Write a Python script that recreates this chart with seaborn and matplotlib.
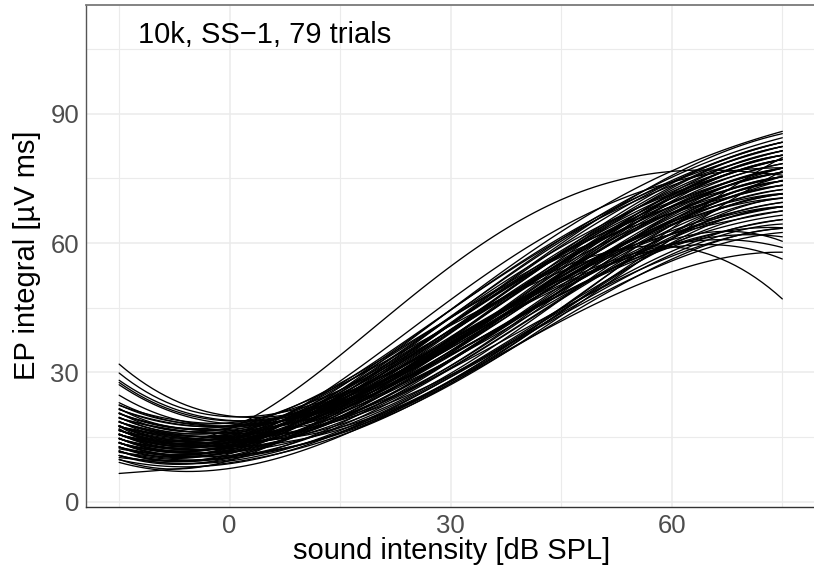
import matplotlib
matplotlib.use("Agg")
import matplotlib.pyplot as plt
from matplotlib.ticker import FixedLocator
import seaborn as sns
import pandas as pd

# ---------------- data ----------------
sound_intensity = [-15, -5, 5, 15, 25, 35, 45, 55, 65, 75]

early_rise_trials = [
    [17.0, 15.5, 21.5, 32.5, 48.0, 61.5, 70.5, 75.0, 76.5, 76.0],
    [16.0, 15.0, 18.0, 25.0, 40.5, 55.0, 64.0, 71.0, 75.0, 78.0],
]

late_plateau_trials = [
    [14.0, 13.0, 16.0, 22.0, 33.0, 46.0, 56.0, 59.5, 55.0, 48.0],
    [13.0, 13.0, 15.5, 21.0, 30.0, 42.0, 52.0, 57.0, 58.0, 57.0],
    [15.0, 14.0, 16.0, 22.0, 31.0, 43.0, 52.0, 57.5, 59.5, 59.5],
    [11.0, 11.5, 13.5, 18.5, 27.0, 39.0, 50.0, 58.0, 61.0, 61.0],
    [17.0, 15.5, 17.0, 22.0, 30.5, 42.0, 51.0, 57.0, 60.0, 62.0],
]

low_start_trials = [
    [6.2, 8.6, 11.0, 14.5, 22.0, 33.0, 45.0, 56.0, 64.0, 71.0],
    [8.4, 8.6, 9.6, 13.5, 22.5, 33.5, 43.5, 49.5, 54.5, 58.5],
    [10.0, 10.0, 11.5, 15.5, 23.0, 34.0, 45.0, 57.0, 69.0, 80.0],
    [12.0, 11.0, 12.0, 15.0, 22.0, 33.0, 43.5, 55.0, 66.0, 77.0],
]

high_start_trials = [
    [31.2, 23.5, 19.5, 22.0, 30.0, 42.0, 52.0, 60.0, 66.0, 71.0],
    [29.2, 22.5, 20.0, 23.5, 32.0, 44.0, 53.0, 61.0, 68.0, 75.0],
    [27.6, 21.5, 19.0, 21.5, 29.0, 40.0, 49.0, 56.0, 61.0, 64.0],
    [27.1, 21.0, 19.5, 22.5, 31.0, 43.0, 53.0, 61.0, 67.0, 72.0],
    [26.6, 20.5, 18.5, 21.0, 28.5, 40.0, 50.0, 58.0, 64.0, 69.0],
    [24.1, 19.5, 18.5, 21.5, 30.0, 42.0, 52.0, 61.0, 68.0, 76.0],
    [22.4, 19.0, 19.0, 22.5, 31.0, 43.0, 54.0, 63.0, 70.0, 78.0],
]

typical_trials = [
    [9.0, 9.8, 10.5, 14.1, 23.9, 35.7, 44.3, 54.4, 60.1, 66.0],
    [10.0, 10.5, 11.8, 16.4, 26.7, 39.4, 50.6, 60.2, 67.3, 74.0],
    [10.0, 10.5, 12.9, 19.4, 30.9, 44.8, 57.0, 65.3, 73.0, 80.0],
    [11.0, 11.2, 12.0, 15.9, 25.3, 37.5, 47.4, 57.3, 63.7, 70.0],
    [11.0, 11.2, 13.1, 18.8, 29.5, 43.0, 53.9, 62.4, 69.4, 76.0],
    [11.0, 11.2, 14.2, 21.8, 33.7, 48.5, 61.4, 68.7, 76.8, 84.0],
    [12.0, 11.9, 11.9, 14.3, 22.5, 33.9, 42.2, 52.7, 58.2, 64.0],
    [12.0, 11.9, 13.3, 18.3, 28.1, 41.2, 53.7, 63.1, 70.9, 78.0],
    [12.0, 11.9, 14.4, 21.2, 32.3, 46.6, 59.2, 67.0, 74.9, 82.0],
    [12.0, 11.9, 15.1, 23.2, 35.1, 50.3, 63.0, 69.8, 77.9, 85.0],
    [13.0, 12.6, 12.9, 15.7, 23.9, 35.7, 45.3, 55.6, 61.8, 68.0],
    [13.0, 12.6, 13.6, 17.7, 26.7, 39.4, 49.6, 59.0, 65.6, 72.0],
    [13.0, 12.6, 14.3, 19.7, 29.5, 43.0, 55.4, 64.2, 72.0, 79.0],
    [13.0, 12.6, 15.4, 22.6, 33.7, 48.5, 59.9, 66.9, 74.3, 81.0],
    [13.0, 12.6, 16.1, 24.6, 36.5, 52.1, 65.0, 71.2, 79.3, 86.5],
    [14.0, 13.3, 13.8, 17.1, 25.3, 37.5, 47.9, 57.9, 64.6, 71.0],
    [14.0, 13.3, 14.5, 19.1, 28.1, 41.2, 52.2, 61.3, 68.4, 75.0],
    [14.0, 13.3, 15.3, 21.1, 30.9, 44.8, 58.5, 67.1, 75.6, 83.0],
    [14.0, 13.3, 15.6, 22.0, 32.3, 46.6, 56.8, 64.0, 70.7, 77.0],
    [14.0, 13.3, 16.3, 24.0, 35.1, 50.3, 60.6, 66.8, 73.6, 80.0],
    [15.0, 14.0, 13.7, 15.6, 22.5, 33.9, 44.6, 55.7, 62.5, 69.0],
    [15.0, 14.0, 14.8, 18.5, 26.7, 39.4, 51.5, 61.4, 69.0, 76.0],
    [15.0, 14.0, 15.5, 20.5, 29.5, 43.0, 52.5, 60.6, 66.9, 73.0],
    [15.0, 14.0, 15.9, 21.5, 30.9, 44.8, 57.5, 65.9, 73.9, 81.0],
    [15.0, 14.0, 16.6, 23.4, 33.7, 48.5, 58.5, 65.1, 71.7, 78.0],
    [15.0, 14.0, 17.3, 25.4, 36.5, 52.1, 63.3, 69.1, 76.4, 83.0],
    [16.0, 14.7, 14.7, 17.0, 23.9, 35.7, 48.2, 59.2, 66.9, 74.0],
    [16.0, 14.7, 15.7, 19.9, 28.1, 41.2, 48.4, 56.5, 61.6, 67.0],
    [16.0, 14.7, 16.1, 20.9, 29.5, 43.0, 56.8, 66.0, 74.5, 82.0],
    [16.0, 14.7, 16.8, 22.9, 32.3, 46.6, 55.8, 62.8, 69.0, 75.0],
    [16.0, 14.7, 17.5, 24.8, 35.1, 50.3, 62.6, 69.2, 77.0, 84.0],
    [17.0, 15.4, 15.6, 18.4, 25.3, 37.5, 50.8, 61.5, 69.7, 77.0],
    [17.0, 15.4, 16.3, 20.4, 28.1, 41.2, 54.6, 64.3, 72.6, 80.0],
    [17.0, 15.4, 17.1, 22.3, 30.9, 44.8, 52.2, 59.3, 64.5, 70.0],
    [17.0, 15.4, 17.8, 24.3, 33.7, 48.5, 59.0, 65.7, 72.6, 79.0],
    [17.0, 15.4, 18.5, 26.2, 36.5, 52.1, 62.8, 68.5, 75.5, 82.0],
    [18.0, 16.1, 15.9, 17.8, 23.9, 35.7, 43.8, 53.8, 59.3, 65.0],
    [18.0, 16.1, 16.6, 19.8, 26.7, 39.4, 50.1, 59.6, 66.5, 73.0],
    [18.0, 16.1, 17.3, 21.8, 29.5, 43.0, 54.4, 63.0, 70.3, 77.0],
    [18.0, 16.1, 18.0, 23.7, 32.3, 46.6, 60.2, 68.2, 76.6, 84.0],
    [18.0, 16.1, 18.7, 25.7, 35.1, 50.3, 58.7, 64.4, 70.2, 76.0],
    [19.0, 16.8, 16.8, 19.2, 25.3, 37.5, 49.8, 60.3, 68.0, 75.0],
    [19.0, 16.8, 17.5, 21.2, 28.1, 41.2, 55.1, 64.9, 73.5, 81.0],
    [19.0, 16.8, 18.3, 23.2, 30.9, 44.8, 53.2, 60.5, 66.2, 72.0],
    [19.0, 16.8, 19.0, 25.1, 33.7, 48.5, 59.4, 66.3, 73.4, 80.0],
    [20.0, 17.5, 17.8, 20.6, 26.7, 39.4, 48.2, 57.2, 63.0, 69.0],
    [20.0, 17.5, 18.5, 22.6, 29.5, 43.0, 54.9, 63.6, 71.1, 78.0],
    [20.0, 17.5, 19.2, 24.6, 32.3, 46.6, 59.7, 67.6, 75.8, 83.0],
    [20.0, 17.5, 19.9, 26.5, 35.1, 50.3, 57.8, 63.2, 68.5, 74.0],
    [21.0, 18.2, 18.7, 22.0, 28.1, 41.2, 52.7, 61.9, 69.2, 76.0],
    [21.0, 18.2, 19.5, 24.0, 30.9, 44.8, 57.0, 65.3, 73.0, 80.0],
    [21.0, 18.2, 20.2, 26.0, 33.7, 48.5, 53.7, 59.1, 63.2, 68.0],
    [22.0, 18.9, 19.7, 23.4, 29.5, 43.0, 56.3, 65.4, 73.7, 81.0],
    [22.0, 18.9, 20.4, 25.4, 32.3, 46.6, 56.8, 64.0, 70.7, 77.0],
    [10.0, 10.5, 11.1, 14.5, 23.9, 35.7, 42.9, 52.6, 57.6, 63.0],
    [9.0, 9.8, 12.6, 19.9, 32.3, 46.6, 57.3, 64.6, 71.5, 78.0],
    [11.0, 11.2, 12.7, 17.8, 28.1, 41.2, 47.9, 55.9, 60.7, 66.0],
    [15.0, 14.0, 14.4, 17.6, 25.3, 37.5, 44.6, 53.7, 58.6, 64.0],
    [16.0, 14.7, 17.2, 23.9, 33.7, 48.5, 62.3, 69.9, 78.5, 86.0],
    [13.0, 12.6, 14.7, 20.6, 30.9, 44.8, 51.8, 58.7, 63.7, 69.0],
    [17.0, 15.4, 14.9, 16.4, 22.5, 33.9, 46.0, 57.5, 65.0, 72.0],
]

annotation = "10k, SS\u22121, 79 trials"
x_label = "sound intensity [dB SPL]"
y_label = "EP integral [\u00b5V ms]"
x_ticks = [0, 30, 60]
y_ticks = [0, 30, 60, 90]

# ---------------- long table ----------------
rows = []
trial_id = 0
for group in (typical_trials, high_start_trials, low_start_trials,
              late_plateau_trials, early_rise_trials):
    for values in group:
        for xv, yv in zip(sound_intensity, values):
            rows.append({"trial": trial_id, "intensity": xv, "ep": yv})
        trial_id += 1
df = pd.DataFrame(rows)

# ---------------- plot ----------------
sns.set_style("white")
plt.rcParams["font.family"] = ["Liberation Sans", "DejaVu Sans"]

W, H = 814, 568
fig = plt.figure(figsize=(W / 100, H / 100), dpi=100)
left, right, top, bottom = 86, 814, 5, 507
ax = fig.add_axes([left / W, 1 - bottom / H, (right - left) / W, (bottom - top) / H])

# one smooth polynomial fit per trial
for _, trial in df.groupby("trial"):
    sns.regplot(data=trial, x="intensity", y="ep", order=4, ci=None,
                scatter=False, truncate=True, ax=ax,
                line_kws={"color": "black", "linewidth": 0.95})

ax.set_xlim(-19.5, 79.3)
ax.set_ylim(-1.23, 115.2)

ax.xaxis.set_major_locator(FixedLocator(x_ticks))
ax.xaxis.set_minor_locator(FixedLocator([-15, 15, 45, 75]))
ax.yaxis.set_major_locator(FixedLocator(y_ticks))
ax.yaxis.set_minor_locator(FixedLocator([15, 45, 75, 105]))
ax.grid(which="major", color="#EBEBEB", linewidth=1.1)
ax.grid(which="minor", color="#EBEBEB", linewidth=0.8)
ax.set_axisbelow(True)

ax.tick_params(which="major", length=3, width=0.9, color="#333333",
               labelsize=18.5, labelcolor="#4D4D4D", pad=2.0)
ax.tick_params(which="minor", length=0)

for side, col, lw in (("left", "#555555", 1.0), ("top", "#7a7a7a", 1.3),
                      ("bottom", "#333333", 1.0)):
    ax.spines[side].set_visible(True)
    ax.spines[side].set_color(col)
    ax.spines[side].set_linewidth(lw)
ax.spines["right"].set_visible(False)

ax.set_xlabel("")
ax.set_ylabel("")
fig.text(452 / W, 1 - 559 / H, x_label, ha="center", va="baseline",
         fontsize=21, color="black")
fig.text(41 / W, 1 - 255 / H, y_label, ha="right", va="center",
         rotation=90, fontsize=21, color="black")

ax.text(-12.4, 106.4, annotation, ha="left", va="baseline",
        fontsize=21, color="black")

fig.savefig("out.png", dpi=100)
